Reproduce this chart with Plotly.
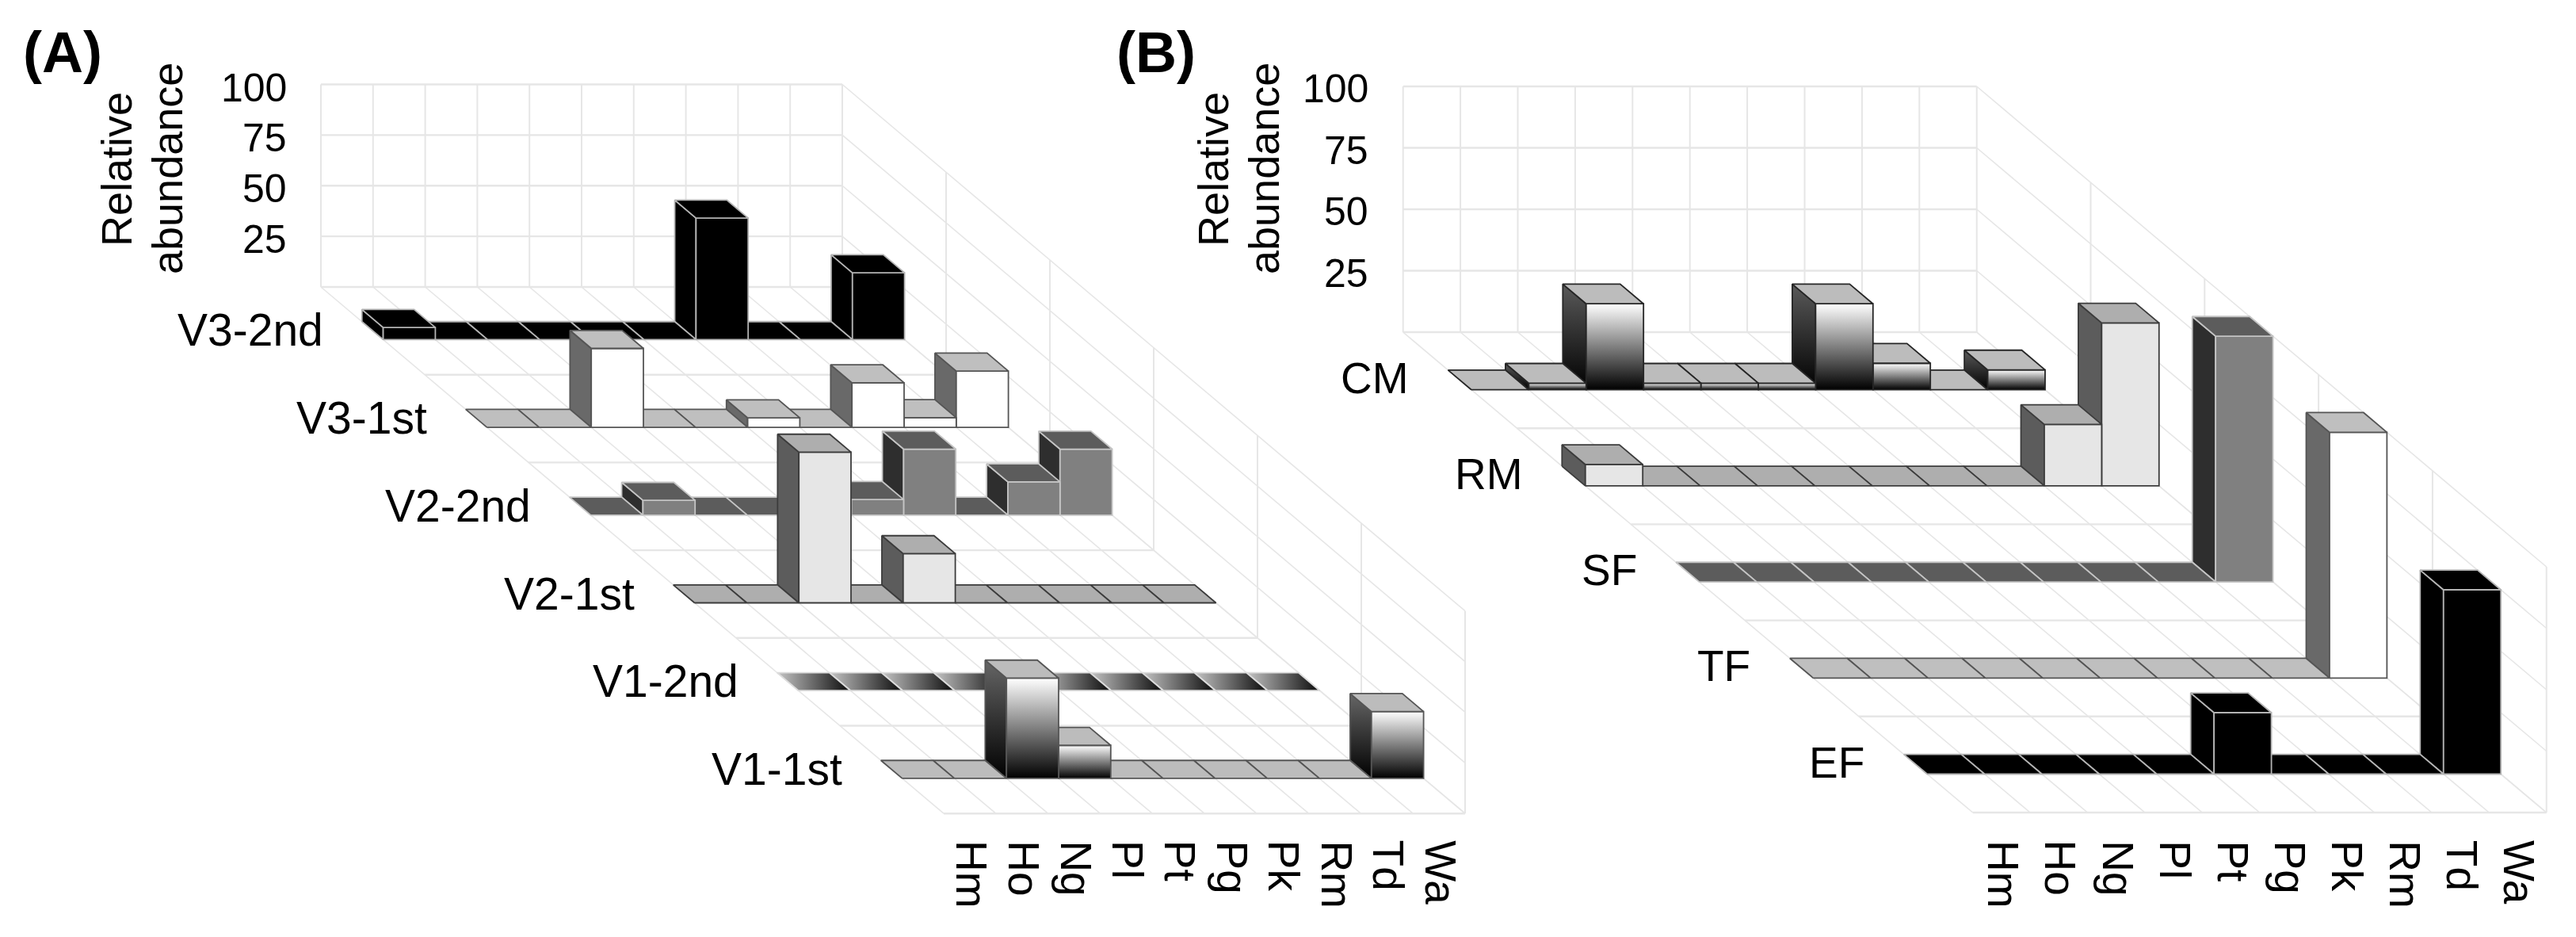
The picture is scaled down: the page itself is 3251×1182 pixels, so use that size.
import plotly.graph_objects as go

# ---------- data ----------
categories = ["Hm", "Ho", "Ng", "Pl", "Pt", "Pg", "Pk", "Rm", "Td", "Wa"]
z_ticks = [25, 50, 75, 100]

series_a = ["V3-2nd", "V3-1st", "V2-2nd", "V2-1st", "V1-2nd", "V1-1st"]
v3_2nd = [6, 0, 0, 0, 0, 0, 60, 0, 0, 33]
v3_1st = [0, 0, 39, 0, 0, 4.7, 0, 22, 4.8, 27.8]
v2_2nd = [0, 7.3, 0, 0, 0, 7.7, 32.6, 0, 16.4, 32.6]
v2_1st = [0, 0, 74.4, 0, 24.3, 0, 0, 0, 0, 0]
v1_2nd = [0, 0, 0, 0, 0, 0, 0, 0, 0, 0]
v1_1st = [0, 0, 49.5, 16.3, 0, 0, 0, 0, 0, 33]

series_b = ["CM", "RM", "SF", "TF", "EF"]
cm = [0, 2.7, 35, 2.7, 2.7, 2.7, 35, 10.8, 0, 8.1]
rm = [8.7, 0, 0, 0, 0, 0, 0, 0, 25, 66.3]
sf = [0, 0, 0, 0, 0, 0, 0, 0, 0, 100]
tf = [0, 0, 0, 0, 0, 0, 0, 0, 0, 100]
ef = [0, 0, 0, 0, 0, 25, 0, 0, 0, 75]

# ---------- styles ----------
BLACK = dict(front="#000000", top="#000000", side="#000000", line="#b4b4b4")
WHITE = dict(front="#ffffff", top="#bfbfbf", side="#696969", line="#555555")
MID = dict(front="#808080", top="#5c5c5c", side="#2e2e2e", line="#c4c4c4")
PALE = dict(front="#e6e6e6", top="#aeaeae", side="#5c5c5c", line="#3c3c3c")
GRAD = dict(front=("v", "#ffffff", "#000000"), top="#bcbcbc",
            side=("v", "#666666", "#000000"), line="#555555")
GRAD2 = dict(front=("v", "#ffffff", "#000000"), top="#bcbcbc",
             side=("v", "#5a5a5a", "#000000"), line="#262626")
SWEEP = dict(front="#808080", top=("h", "#bcbcbc", "#1c1c1c"), side="#2e2e2e", line="#dcdcdc")

GRID = "#e6e6e6"
FONT = "Liberation Sans"

# panel geometry: wall origin, sizes of one step along each direction
panel_a = dict(x0=405.0, y0=362.0, cw=65.8, dx=131.0, dy=110.7, zs=2.555, rows=series_a,
               vals=[v3_2nd, v3_1st, v2_2nd, v2_1st, v1_2nd, v1_1st],
               styles=[BLACK, WHITE, MID, PALE, SWEEP, GRAD],
               tick_right=362, tick_dy=4, tick_font=50, row_font=57,
               row_dx=-76, row_dy=-12, lab0=1226, lab_top=1060, rel=(147, 211), title=(79, "(A)"))
panel_b = dict(x0=1770.7, y0=419.0, cw=72.4, dx=143.8, dy=121.2, zs=3.1, rows=series_b,
               vals=[cm, rm, sf, tf, ef],
               styles=[GRAD2, PALE, MID, WHITE, BLACK],
               tick_right=1727, tick_dy=3, tick_font=50, row_font=55,
               row_dx=-79, row_dy=-15, lab0=2528, lab_top=1060, rel=(1531, 1595), title=(1459, "(B)"))

FRONT, BACK = 0.6, 0.395

fig = go.Figure()


def project(p, cat, depth, z):
    """Oblique projection of (category position, depth position, abundance)."""
    return (p["x0"] + p["cw"] * cat + p["dx"] * depth,
            p["y0"] + p["dy"] * depth - p["zs"] * z)


def line(p, a, b, width):
    xa, ya = project(p, *a)
    xb, yb = project(p, *b)
    fig.add_trace(go.Scatter(x=[xa, xb], y=[ya, yb], mode="lines",
                             line=dict(color=GRID, width=width),
                             hoverinfo="skip", showlegend=False))


def face(pts, fill, border, width=1.8):
    xs = [q[0] for q in pts] + [pts[0][0]]
    ys = [q[1] for q in pts] + [pts[0][1]]
    kw = {}
    if isinstance(fill, tuple):
        kind, c0, c1 = fill
        if kind == "v":
            kw["fillgradient"] = dict(type="vertical", colorscale=[[0, c0], [1, c1]],
                                      start=min(ys), stop=max(ys))
        else:
            span = max(xs) - min(xs)
            kw["fillgradient"] = dict(type="horizontal", colorscale=[[0, c0], [1, c1]],
                                      start=min(xs) + 0.05 * span, stop=max(xs) - 0.1 * span)
    else:
        kw["fillcolor"] = fill
    fig.add_trace(go.Scatter(x=xs, y=ys, mode="lines", fill="toself",
                             line=dict(color=border, width=width),
                             hoverinfo="skip", showlegend=False, **kw))


def draw_panel(p):
    nc = len(categories)
    nr = len(p["rows"])
    # back wall
    for z in z_ticks + [0]:
        line(p, (0, 0, z), (nc, 0, z), 2.4)
        line(p, (nc, 0, z), (nc, nr, z), 1.6)
    for c in range(nc + 1):
        line(p, (c, 0, 0), (c, 0, 100), 2.0)
        line(p, (c, 0, 0), (c, nr, 0), 1.6)
    # floor and side wall
    for d in range(1, nr + 1):
        line(p, (0, d, 0), (nc, d, 0), 2.4)
        line(p, (nc, d, 0), (nc, d, 100), 2.0)
    # bars, back row first, rightmost first
    for r in range(nr):
        st = p["styles"][r]
        df, db = r + FRONT, r + BACK
        for c in range(nc - 1, -1, -1):
            h = p["vals"][r][c]
            if h > 0:
                face([project(p, c, db, 0), project(p, c, df, 0),
                      project(p, c, df, h), project(p, c, db, h)], st["side"], st["line"])
                face([project(p, c, df, 0), project(p, c + 1, df, 0),
                      project(p, c + 1, df, h), project(p, c, df, h)], st["front"], st["line"])
            face([project(p, c, df, h), project(p, c + 1, df, h),
                  project(p, c + 1, db, h), project(p, c, db, h)], st["top"], st["line"])


draw_panel(panel_a)
draw_panel(panel_b)

annotations = []


def text(x, y, s, size, xanchor="center", yanchor="middle", angle=0):
    annotations.append(dict(x=x, y=y, xref="x", yref="y", text=s, showarrow=False,
                            xanchor=xanchor, yanchor=yanchor, textangle=angle,
                            font=dict(family=FONT, size=size, color="#000000"),
                            borderpad=0, borderwidth=0))


for p in (panel_a, panel_b):
    for t in z_ticks:
        _, yt = project(p, 0, 0, t)
        text(p["tick_right"], yt + p["tick_dy"], str(t), p["tick_font"], xanchor="right")
    for r, name in enumerate(p["rows"]):
        xr, yr = project(p, 0, r + FRONT, 0)
        text(xr + p["row_dx"], yr + p["row_dy"], name, p["row_font"], xanchor="right")
    for c, name in enumerate(categories):
        text(p["lab0"] + p["cw"] * c, p["lab_top"], name, 55, yanchor="top", angle=90)
    text(p["rel"][0], 214, "Relative", 54, angle=-90)
    text(p["rel"][1], 213, "abundance", 54, angle=-90)
    text(p["title"][0], 66, "<b>" + p["title"][1] + "</b>", 72)

fig.update_layout(
    width=3251, height=1182, margin=dict(l=0, r=0, t=0, b=0),
    paper_bgcolor="white", plot_bgcolor="white", showlegend=False,
    annotations=annotations,
    xaxis=dict(range=[0, 3251], visible=False, fixedrange=True),
    yaxis=dict(range=[1182, 0], visible=False, fixedrange=True),
)

fig.write_html("out.html", config=dict(displayModeBar=False),
               post_script="document.body.style.margin='0';document.body.style.overflow='hidden';")
